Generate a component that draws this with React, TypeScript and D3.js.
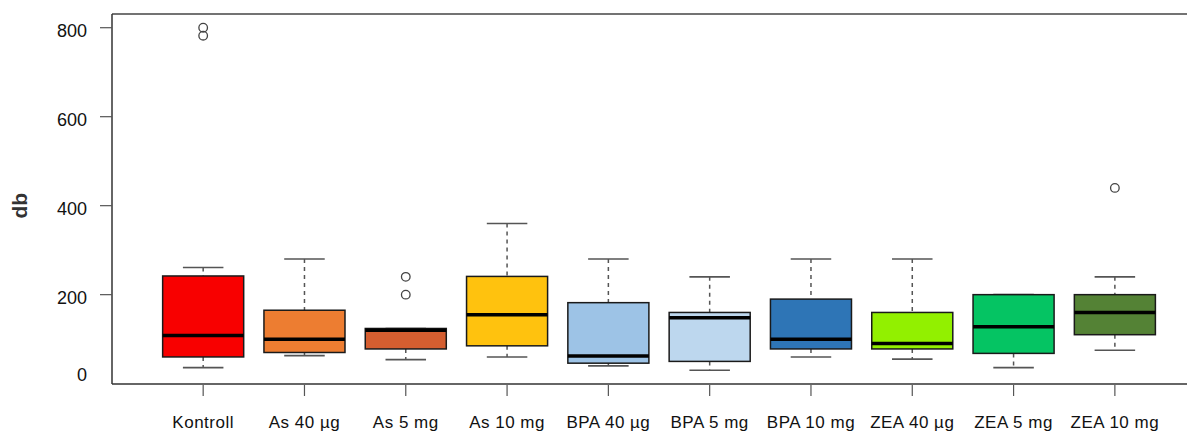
import React from "react";
import * as d3 from "d3";

// Groups and their box summaries (lower whisker, Q1, median, Q3, upper whisker)
const groups = ["Kontroll", "As 40 µg", "As 5 mg", "As 10 mg", "BPA 40 µg", "BPA 5 mg", "BPA 10 mg", "ZEA 40 µg", "ZEA 5 mg", "ZEA 10 mg"];
const lowerWhisker = [36, 63, 54, 60, 40, 30, 60, 55, 36, 75];
const q1 = [60, 70, 78, 85, 46, 50, 78, 78, 68, 110];
const medians = [108, 100, 120, 155, 62, 148, 100, 90, 128, 160];
const q3 = [242, 165, 124, 241, 182, 160, 190, 160, 200, 200];
const upperWhisker = [261, 280, 124, 360, 280, 240, 280, 280, 200, 240];
const outliers: number[][] = [[782, 800], [], [200, 240], [], [], [], [], [], [], [440]];
const fills = ["#F80000", "#ED7D31", "#D55E30", "#FFC20E", "#9DC3E6", "#BDD7EE", "#2E75B6", "#92F000", "#05C463", "#548235"];
const yTicks = [0, 200, 400, 600, 800];
const yTitle = "db";

const W = 1187;
const H = 432;
const plotLeft = 112;
const plotTop = 14;
const plotBottom = 384;

export default function App() {
  // Box positions 1..n with a 4% padded range, boxes 0.8 wide
  const n = groups.length;
  const x = d3.scaleLinear().domain([0.1, n + 1.1]).range([plotLeft, plotLeft + 101.3 * (n + 1)]);
  const allVals = [...lowerWhisker, ...upperWhisker, ...outliers.flat()];
  const lo = d3.min(allVals)!;
  const hi = d3.max(allVals)!;
  const pad = (hi - lo) * 0.04;
  const y = d3.scaleLinear().domain([lo - pad, hi + pad]).range([plotBottom, plotTop]);

  const half = x(1.4) - x(1);
  const capHalf = x(1.2) - x(1);
  const font = "'Liberation Sans', Arial, Helvetica, sans-serif";

  return (
    <svg width={W} height={H} style={{ position: "fixed", left: 0, top: 0, background: "#fff" }}>
      <rect x={0} y={0} width={W} height={H} fill="#fff" />
      {groups.map((g, i) => {
        const cx = x(i + 1);
        return (
          <g key={g}>
            {/* whiskers */}
            <line x1={cx} x2={cx} y1={y(upperWhisker[i])} y2={y(q3[i])} stroke="#555" strokeWidth={1.5} strokeDasharray="4,4" />
            <line x1={cx} x2={cx} y1={y(q1[i])} y2={y(lowerWhisker[i])} stroke="#555" strokeWidth={1.5} strokeDasharray="4,4" />
            <line x1={cx - capHalf} x2={cx + capHalf} y1={y(upperWhisker[i])} y2={y(upperWhisker[i])} stroke="#555" strokeWidth={1.6} />
            <line x1={cx - capHalf} x2={cx + capHalf} y1={y(lowerWhisker[i])} y2={y(lowerWhisker[i])} stroke="#555" strokeWidth={1.6} />
            {/* box */}
            <rect x={cx - half} y={y(q3[i])} width={2 * half} height={y(q1[i]) - y(q3[i])} fill={fills[i]} stroke="#1a1a1a" strokeWidth={1.5} />
            <line x1={cx - half} x2={cx + half} y1={y(medians[i])} y2={y(medians[i])} stroke="#000" strokeWidth={3.5} />
            {outliers[i].map((v, k) => (
              <circle key={k} cx={cx} cy={y(v)} r={4.3} fill="none" stroke="#444" strokeWidth={1.3} />
            ))}
            {/* x tick and label */}
            <line x1={cx} x2={cx} y1={plotBottom + 1} y2={plotBottom + 12} stroke="#555" strokeWidth={1.2} />
            <text x={cx} y={428} textAnchor="middle" fontFamily={font} fontSize={17} letterSpacing={0.5} fill="#111">{g}</text>
          </g>
        );
      })}
      {/* frame */}
      <line x1={plotLeft} x2={W} y1={plotTop} y2={plotTop} stroke="#444" strokeWidth={1.4} />
      <line x1={plotLeft} x2={W} y1={plotBottom} y2={plotBottom} stroke="#333" strokeWidth={1.5} />
      <line x1={plotLeft} x2={plotLeft} y1={plotTop} y2={plotBottom} stroke="#333" strokeWidth={1.5} />
      {/* y axis */}
      {yTicks.map((t) => (
        <g key={t}>
          {t > 0 && <line x1={plotLeft - 12} x2={plotLeft} y1={y(t)} y2={y(t)} stroke="#555" strokeWidth={1.2} />}
          <text x={87} y={Math.min(y(t) + 3, y(0) - 9)} textAnchor="end" dominantBaseline="central" fontFamily={font} fontSize={18} fill="#111">{t}</text>
        </g>
      ))}
      <text transform={`translate(19,${y(400)}) rotate(-90)`} textAnchor="middle" dominantBaseline="central" fontFamily={font} fontWeight="bold" fontSize={21} fill="#333">{yTitle}</text>
    </svg>
  );
}
